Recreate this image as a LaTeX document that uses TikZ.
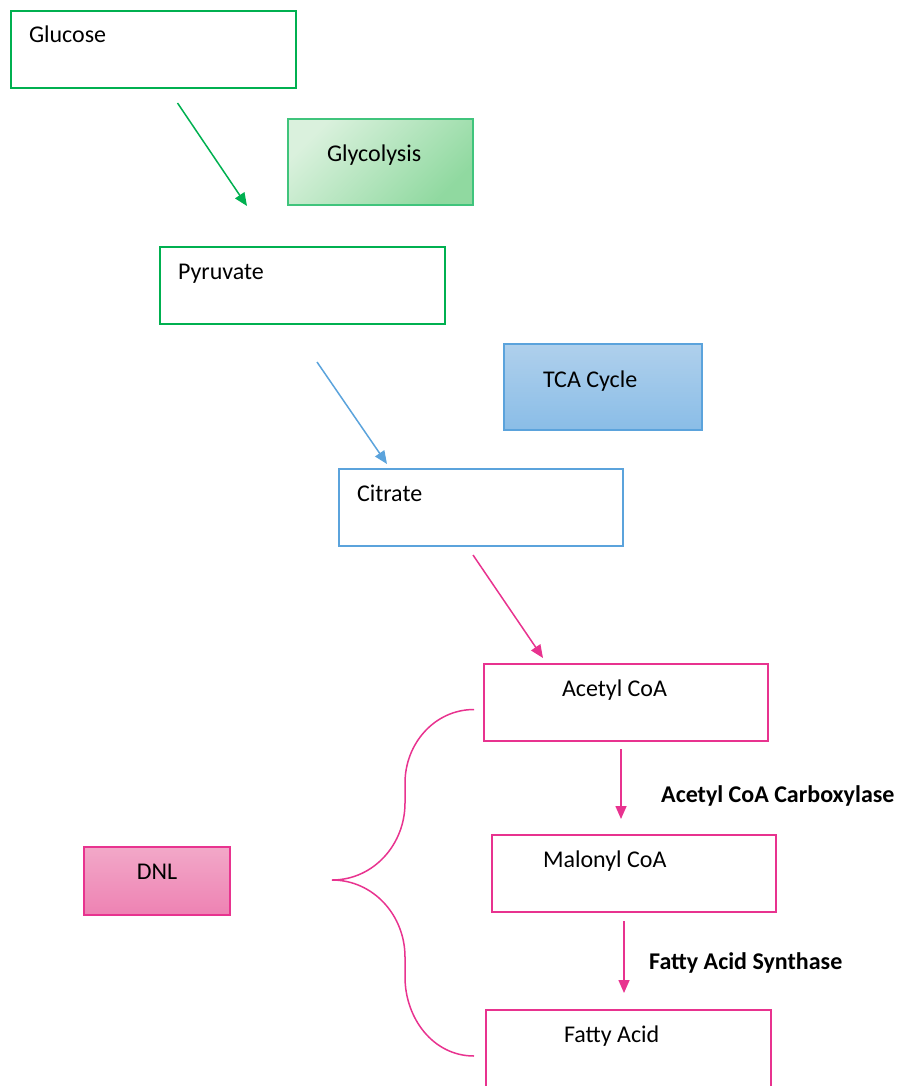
\documentclass[tikz,border=0pt]{standalone}
\usepackage{fontspec}
\setmainfont{Carlito}
\usetikzlibrary{arrows.meta,calc}
\definecolor{dgreen}{HTML}{00B050}
\definecolor{dblue}{HTML}{5BA3DC}
\definecolor{dpink}{HTML}{E8338F}
\definecolor{glyA}{HTML}{DAF1DD}
\definecolor{glyB}{HTML}{90D9A0}
\definecolor{tcaA}{HTML}{AFD0EC}
\definecolor{tcaB}{HTML}{8ABDE7}
\definecolor{dnlA}{HTML}{F2A8C8}
\definecolor{dnlB}{HTML}{EE82B3}

\begin{document}
\begin{tikzpicture}[
  x=1pt, y=1pt,
  font=\fontsize{24pt}{28pt}\selectfont,
  >={Triangle[length=13pt, width=11pt]},
  mol/.style={rectangle, draw=#1, line width=1.8pt, fill=white, anchor=north west, outer sep=0pt,
              inner ysep=0pt, text height=32pt, text depth=45pt, align=flush left},
  proc/.style={rectangle, draw=#1, line width=1.2pt, anchor=north west, outer sep=0pt,
               inner ysep=0pt, align=flush left},
  flow/.style={->, line width=1.5pt, draw=#1},
  enz/.style={font=\fontsize{24pt}{28pt}\selectfont\bfseries, anchor=base west, inner sep=0pt},
  brace/.style={line width=1.5pt, draw=dpink},
]
\useasboundingbox (0,0) rectangle (897,-1086);

\node[mol=dgreen, inner xsep=18pt, text width=249pt] (glu)  at (11,-11)   {Glucose};
\node[mol=dgreen, inner xsep=18pt, text width=249pt] (pyr)  at (160,-247) {Pyruvate};
\node[mol=dblue,  inner xsep=18pt, text width=248pt] (cit)  at (339,-469) {Citrate};
\node[mol=dpink,  inner xsep=78pt, text width=128pt] (acoa) at (484,-664) {Acetyl CoA};
\node[mol=dpink,  inner xsep=51pt, text width=182pt] (mcoa) at (492,-835) {Malonyl CoA};
\node[mol=dpink,  inner xsep=78pt, text width=129pt, text depth=60pt] (fa) at (486,-1010) {Fatty Acid};

\node[proc=dgreen!75, top color=glyA, bottom color=glyB, shading angle=45,
      inner xsep=39pt, text width=107pt, text height=43pt, text depth=43pt] (gly) at (288,-119) {Glycolysis};
\node[proc=dblue, top color=tcaA, bottom color=tcaB,
      inner xsep=39pt, text width=120pt, text height=43pt, text depth=43pt] (tca) at (504,-344) {TCA Cycle};
\node[proc=dpink, top color=dnlA, bottom color=dnlB, align=center,
      inner xsep=10pt, text width=126pt, text height=32pt, text depth=36pt] (dnl) at (84,-847) {DNL};

\draw[flow=dgreen] ($(glu.south)+(24,-15)$) -- ($(pyr.north west)+(87,41)$);
\draw[flow=dblue] ($(pyr.south)+(14.5,-38)$) -- ($(cit.north west)+(48,5)$);
\draw[flow=dpink] ($(cit.south)+(-8,-9)$) -- ($(acoa.north west)+(59,6)$);
\draw[flow=dpink] ($(acoa.south)+(-5,-8)$) -- ($(mcoa.north west)+(129,16)$);
\draw[flow=dpink] ($(mcoa.south)+(-10,-9)$) -- ($(fa.north west)+(138,17)$);

\node[enz] (acc) at (661,-802) {Acetyl CoA Carboxylase};
\node[enz] (fas) at (649,-969) {Fatty Acid Synthase};

\coordinate (bTop) at ($(acoa.west)+(-10,-7)$);
\coordinate (bTip) at (332,-880);
\coordinate (bBot) at ($(fa.north west)+(-12,-46)$);
\draw[brace] (bTop) to[out=180, in=90] (405,-783) -- (405,-803) to[out=-90, in=0] (bTip)
  to[out=0, in=90] (405,-957) -- (405,-977) to[out=-90, in=180] (bBot);

\end{tikzpicture}
\end{document}
